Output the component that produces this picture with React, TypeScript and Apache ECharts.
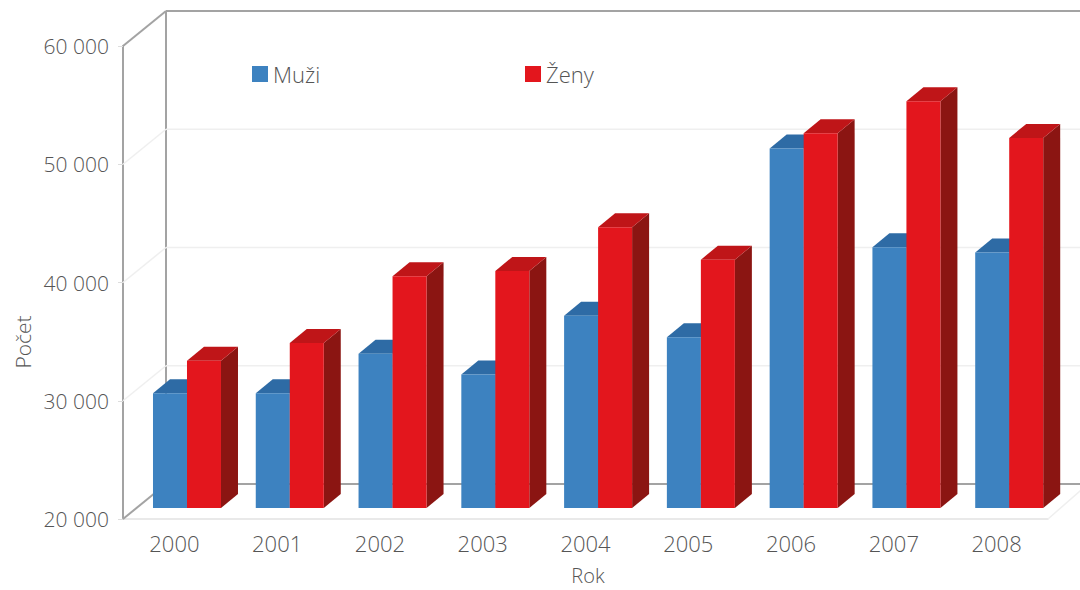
import React, { useEffect, useRef } from "react";
import * as echarts from "echarts";

const categories = ["2000", "2001", "2002", "2003", "2004", "2005", "2006", "2007", "2008"];
const menValues = [29700, 29700, 33050, 31300, 36250, 34450, 50400, 42050, 41600];
const womenValues = [32450, 33950, 39600, 40050, 43750, 41000, 51700, 54400, 51300];
const yTicks = [20000, 30000, 40000, 50000, 60000];

const FONT = "'Open Sans', 'Noto Sans', sans-serif";
const WALL_DX = 43;
const WALL_DY = 35;
const BAR_W = 34;
const BAR_DX = 17;
const BAR_DY = 14;
const SHIFT_Y = 11;
const STRONG = "#a3a3a3";
const LIGHT = "#efefef";
const TEXT = "#555555";

function barRenderer(side: number, front: string, top: string, dark: string) {
  return (_params: any, api: any) => {
    const p = api.coord([api.value(0), api.value(1)]);
    const b = api.coord([api.value(0), 20000]);
    const center = p[0] + 12.6;
    const x0 = side < 0 ? center - BAR_W : center;
    const x1 = x0 + BAR_W;
    const yt = p[1] - SHIFT_Y;
    const yb = b[1] - SHIFT_Y;
    return {
      type: "group",
      children: [
        {
          type: "polygon",
          shape: { points: [[x1, yt], [x1 + BAR_DX, yt - BAR_DY], [x1 + BAR_DX, yb - BAR_DY], [x1, yb]] },
          style: { fill: dark },
        },
        {
          type: "polygon",
          shape: { points: [[x0, yt], [x0 + BAR_DX, yt - BAR_DY], [x1 + BAR_DX, yt - BAR_DY], [x1, yt]] },
          style: { fill: top },
        },
        { type: "rect", shape: { x: x0, y: yt, width: BAR_W, height: yb - yt }, style: { fill: front } },
      ],
    };
  };
}

function wallRenderer(params: any, api: any) {
  const cs = params.coordSys;
  const v = api.value(1);
  const y = api.coord([0, v])[1];
  const strong = v === yTicks[0] || v === yTicks[yTicks.length - 1];
  const stroke = strong ? STRONG : LIGHT;
  const lw = strong ? 2 : 1.5;
  const line = (x1: number, y1: number, x2: number, y2: number, s: string, w: number) => ({
    type: "line",
    shape: { x1, y1, x2, y2 },
    style: { stroke: s, lineWidth: w },
  });
  const bx = cs.x + WALL_DX;
  const children: any[] = [
    line(bx, y - WALL_DY, cs.x + cs.width + 40, y - WALL_DY, stroke, lw),
    line(cs.x, y, bx, y - WALL_DY, stroke, lw),
  ];
  if (v === yTicks[0]) {
    children.push(line(bx, cs.y - WALL_DY, bx, cs.y + cs.height - WALL_DY, STRONG, 2));
    children.push(line(cs.x + cs.width, y, cs.x + cs.width + 40, y - WALL_DY, LIGHT, 1.5));
  }
  return { type: "group", children };
}

export default function App() {
  const ref = useRef<HTMLDivElement>(null);
  useEffect(() => {
    const chart = echarts.init(ref.current!, undefined, { renderer: "svg" });
    const textStyle = { color: TEXT, fontFamily: FONT, fontWeight: 300 as any };
    chart.setOption({
      animation: false,
      backgroundColor: "#ffffff",
      grid: { left: 123, top: 46, width: 925, height: 473 },
      legend: [
        {
          data: ["Muži"], left: 247, top: 58, icon: "rect", itemWidth: 16, itemHeight: 16,
          textStyle: { ...textStyle, fontSize: 22 },
        },
        {
          data: ["Ženy"], left: 520, top: 58, icon: "rect", itemWidth: 16, itemHeight: 16,
          textStyle: { ...textStyle, fontSize: 22 },
        },
      ],
      xAxis: {
        type: "category",
        data: categories,
        name: "Rok",
        nameLocation: "middle",
        nameGap: 46,
        nameTextStyle: { ...textStyle, fontSize: 20, padding: [0, 0, 0, 5] },
        axisLine: { lineStyle: { color: "#e2e2e2", width: 1.5 } },
        axisTick: { length: 6, lineStyle: { color: "#e2e2e2" } },
        axisLabel: { ...textStyle, fontSize: 22, margin: 13 },
        splitLine: { show: false },
      },
      yAxis: {
        type: "value",
        min: 20000,
        max: 60000,
        interval: 10000,
        axisLine: { show: true, lineStyle: { color: STRONG, width: 2 } },
        axisTick: { show: true, length: 5, lineStyle: { color: "#dddddd" } },
        axisLabel: {
          ...textStyle,
          fontSize: 21,
          margin: 14,
          formatter: (v: number) => `${v / 1000} 000`,
        },
        splitLine: { show: false },
      },
      graphic: [
        {
          type: "text",
          x: 23,
          y: 342,
          rotation: Math.PI / 2,
          style: {
            text: "Počet",
            fill: TEXT,
            font: `300 21px ${FONT}`,
            align: "center",
            verticalAlign: "middle",
          },
        },
      ],
      series: [
        {
          type: "custom",
          name: "walls",
          silent: true,
          z: 1,
          renderItem: wallRenderer,
          encode: { x: 0, y: 1 },
          data: yTicks.map((t) => [0, t]),
        },
        {
          type: "custom",
          name: "Muži",
          z: 3,
          itemStyle: { color: "#3d82c0" },
          renderItem: barRenderer(-1, "#3d82c0", "#2e6ba5", "#2a5f92"),
          encode: { x: 0, y: 1 },
          data: menValues.map((v, i) => [i, v]),
        },
        {
          type: "custom",
          name: "Ženy",
          z: 4,
          itemStyle: { color: "#e3161d" },
          renderItem: barRenderer(1, "#e3161d", "#bf1518", "#8b1512"),
          encode: { x: 0, y: 1 },
          data: womenValues.map((v, i) => [i, v]),
        },
      ],
    });
    return () => chart.dispose();
  }, []);
  return (
    <div
      ref={ref}
      style={{ position: "fixed", left: 0, top: 0, width: 1080, height: 590 }}
    />
  );
}
